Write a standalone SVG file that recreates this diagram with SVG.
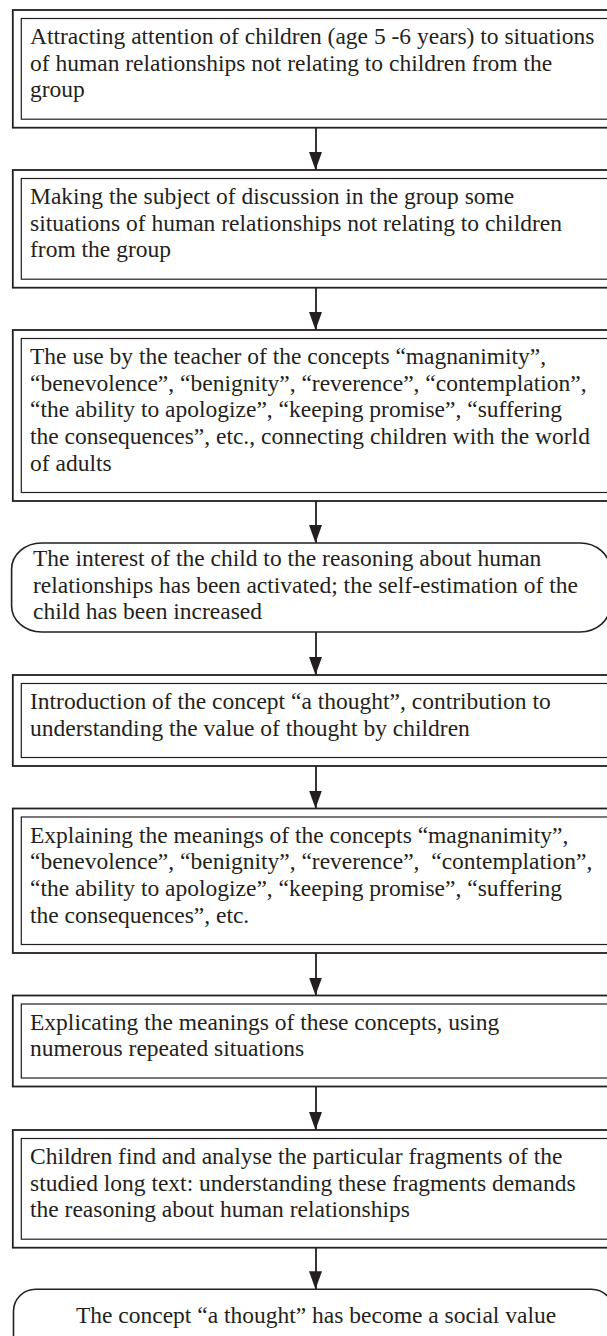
<svg xmlns="http://www.w3.org/2000/svg" width="607" height="1336" viewBox="0 0 607 1336">
<style>
.bg{fill:#ffffff}
.outer{fill:#ffffff;stroke:#231f20;stroke-width:1.8}
.inner{fill:none;stroke:#231f20;stroke-width:1.2}
.term{fill:#ffffff;stroke:#231f20;stroke-width:1.6}
.t{font-family:"Liberation Serif","Times New Roman",serif;font-size:23.5px;fill:#231f20;white-space:pre}
.c{text-anchor:middle}
.edge{stroke:#231f20;stroke-width:1.8;fill:none}
</style>
<defs>
<marker id="ah" markerUnits="userSpaceOnUse" markerWidth="14" markerHeight="18" viewBox="0 0 14 18" refX="7" refY="18" orient="auto-start-reverse">
<path d="M0,0 L14,0 L7,18 Z" fill="#231f20" transform="rotate(-90 7 9) translate(0 0)"/>
</marker>
<marker id="ahd" markerUnits="userSpaceOnUse" markerWidth="14" markerHeight="18" viewBox="0 0 14 18" refX="7" refY="18" orient="0">
<path d="M0,0 L13,0 L6.5,18 Z" fill="#231f20"/>
</marker>
</defs>
<rect class="bg" x="0" y="0" width="607" height="1336"/>

<g id="connectors">
<line class="edge" x1="316" y1="127.7" x2="316" y2="170" marker-end="url(#ahd)"/>
<line class="edge" x1="316" y1="287.7" x2="316" y2="330" marker-end="url(#ahd)"/>
<line class="edge" x1="316" y1="501" x2="316" y2="543" marker-end="url(#ahd)"/>
<line class="edge" x1="316" y1="632" x2="316" y2="675" marker-end="url(#ahd)"/>
<line class="edge" x1="316" y1="766" x2="316" y2="808.5" marker-end="url(#ahd)"/>
<line class="edge" x1="316" y1="953" x2="316" y2="995.5" marker-end="url(#ahd)"/>
<line class="edge" x1="316" y1="1086.5" x2="316" y2="1130" marker-end="url(#ahd)"/>
<line class="edge" x1="316" y1="1247.7" x2="316" y2="1289.3" marker-end="url(#ahd)"/>
</g>

<g id="n1">
<rect class="outer" x="12.8" y="10" width="607" height="117.7"/>
<rect class="inner" x="21.3" y="18.5" width="590" height="100.7"/>
<text class="t" x="30" y="44">Attracting attention of children (age 5 -6 years) to situations</text>
<text class="t" x="30" y="70.7">of human relationships not relating to children from the</text>
<text class="t" x="30" y="97.4">group</text>
</g>

<g id="n2">
<rect class="outer" x="12.8" y="170" width="607" height="117.7"/>
<rect class="inner" x="21.3" y="178.5" width="590" height="100.7"/>
<text class="t" x="30" y="204">Making the subject of discussion in the group some</text>
<text class="t" x="30" y="230.7">situations of human relationships not relating to children</text>
<text class="t" x="30" y="257.4">from the group</text>
</g>

<g id="n3">
<rect class="outer" x="12.8" y="330" width="607" height="171"/>
<rect class="inner" x="21.3" y="338.5" width="590" height="154"/>
<text class="t" x="30" y="364">The use by the teacher of the concepts “magnanimity”,</text>
<text class="t" x="30" y="390.7">“benevolence”, “benignity”, “reverence”, “contemplation”,</text>
<text class="t" x="30" y="417.4">“the ability to apologize”, “keeping promise”, “suffering</text>
<text class="t" x="30" y="444.1">the consequences”, etc., connecting children with the world</text>
<text class="t" x="30" y="470.8">of adults</text>
</g>

<g id="n4">
<rect class="term" x="11.6" y="543" width="598.4" height="89" rx="30" ry="26"/>
<text class="t" x="33" y="566">The interest of the child to the reasoning about human</text>
<text class="t" x="33" y="592.5">relationships has been activated; the self-estimation of the</text>
<text class="t" x="33" y="619">child has been increased</text>
</g>

<g id="n5">
<rect class="outer" x="12.8" y="675" width="607" height="91"/>
<rect class="inner" x="21.3" y="683.5" width="590" height="74"/>
<text class="t" x="30" y="709">Introduction of the concept “a thought”, contribution to</text>
<text class="t" x="30" y="735.7">understanding the value of thought by children</text>
</g>

<g id="n6">
<rect class="outer" x="12.8" y="808.5" width="607" height="144.5"/>
<rect class="inner" x="21.3" y="817" width="590" height="127.5"/>
<text class="t" x="30" y="842.5">Explaining the meanings of the concepts “magnanimity”,</text>
<text class="t" x="30" y="869.2">“benevolence”, “benignity”, “reverence”,  “contemplation”,</text>
<text class="t" x="30" y="895.9">“the ability to apologize”, “keeping promise”, “suffering</text>
<text class="t" x="30" y="922.6">the consequences”, etc.</text>
</g>

<g id="n7">
<rect class="outer" x="12.8" y="995.5" width="607" height="91"/>
<rect class="inner" x="21.3" y="1004" width="590" height="74"/>
<text class="t" x="30" y="1029.5">Explicating the meanings of these concepts, using</text>
<text class="t" x="30" y="1056.2">numerous repeated situations</text>
</g>

<g id="n8">
<rect class="outer" x="12.8" y="1130" width="607" height="117.7"/>
<rect class="inner" x="21.3" y="1138.5" width="590" height="100.7"/>
<text class="t" x="30" y="1164">Children find and analyse the particular fragments of the</text>
<text class="t" x="30" y="1190.7">studied long text: understanding these fragments demands</text>
<text class="t" x="30" y="1217.4">the reasoning about human relationships</text>
</g>

<g id="n9">
<rect class="term" x="13.5" y="1289.3" width="600" height="70" rx="22" ry="22"/>
<text class="t c" x="316" y="1322.7">The concept “a thought” has become a social value</text>
</g>
</svg>
